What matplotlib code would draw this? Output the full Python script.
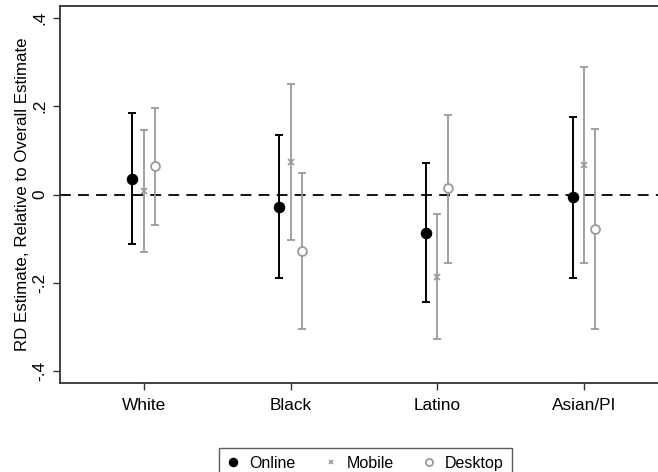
import matplotlib
matplotlib.use("Agg")
import matplotlib.pyplot as plt
import numpy as np

plt.rcParams['font.family'] = ['Liberation Sans', 'DejaVu Sans']

groups = ["White", "Black", "Latino", "Asian/PI"]
series = ["Online", "Mobile", "Desktop"]

est = {
    "Online":  [0.036, -0.028, -0.086, -0.005],
    "Mobile":  [0.008,  0.074, -0.186,  0.066],
    "Desktop": [0.064, -0.128,  0.014, -0.077],
}
upper = {
    "Online":  [0.185,  0.135,  0.072,  0.176],
    "Mobile":  [0.145,  0.251, -0.043,  0.288],
    "Desktop": [0.196,  0.049,  0.181,  0.149],
}
lower = {
    "Online":  [-0.113, -0.190, -0.243, -0.188],
    "Mobile":  [-0.130, -0.104, -0.328, -0.155],
    "Desktop": [-0.068, -0.305, -0.155, -0.304],
}

yticks = [-0.4, -0.2, 0.0, 0.2, 0.4]
ytick_labels = ["-.4", "-.2", "0", ".2", ".4"]

styles = {
    "Online":  dict(offset=-0.078, ecolor="black", marker="o",
                    ms=7.3, mfc="black", mec="black", mew=1.0, elw=1.4),
    "Mobile":  dict(offset=0.0, ecolor="#9a9a9a", marker="x",
                    ms=3.8, mfc="#9a9a9a", mec="#9a9a9a", mew=1.2, elw=1.3),
    "Desktop": dict(offset=0.075, ecolor="#9a9a9a", marker="o",
                    ms=6.4, mfc="white", mec="#9a9a9a", mew=1.3, elw=1.3),
}

fig = plt.figure(figsize=(6.58, 4.72), dpi=100)
W, H = 658, 472
ax = fig.add_axes([60 / W, 1 - 383 / H, (662 - 60) / W, (383 - 6) / H])

x = np.arange(1, len(groups) + 1)
ax.axhline(0, color="black", lw=1.3, ls=(0, (6, 4)), zorder=1)

for s in series:
    st = styles[s]
    e = np.array(est[s])
    lo = np.array(lower[s])
    hi = np.array(upper[s])
    ax.errorbar(x + st["offset"], e, yerr=[e - lo, hi - e], fmt="none",
                ecolor=st["ecolor"], elinewidth=st["elw"], capsize=3,
                capthick=st["elw"], zorder=2)
    ax.plot(x + st["offset"], e, linestyle="none", marker=st["marker"],
            ms=st["ms"], mfc=st["mfc"], mec=st["mec"], mew=st["mew"],
            zorder=3, label=s)

ax.set_xlim(0.428, 4.53)
ax.set_ylim(-0.4265, 0.4265)
ax.set_xticks(x)
ax.set_xticklabels(groups, fontsize=12.4)
ax.set_yticks(yticks)
ax.set_yticklabels(ytick_labels, fontsize=12.4, rotation=90, va="center")
ax.tick_params(axis="both", direction="out", length=5, width=1.0, color="#333333")
ax.tick_params(axis="x", pad=6)
ax.tick_params(axis="y", pad=4)
ax.set_ylabel("RD Estimate, Relative to Overall Estimate", fontsize=12.2, labelpad=2)
for sp in ax.spines.values():
    sp.set_color("#333333")
    sp.set_linewidth(1.3)

handles, labels = ax.get_legend_handles_labels()
leg = fig.legend(handles, labels, loc="upper center", ncol=3,
                 bbox_to_anchor=(365.5 / W, 1 - 440 / H), fontsize=11.5,
                 frameon=True, fancybox=False, edgecolor="#333333",
                 handlelength=0.8, handletextpad=0.6, columnspacing=1.8,
                 borderpad=0.5, markerscale=0.8)
leg.get_frame().set_linewidth(1.0)

fig.savefig("out.png", dpi=100)
